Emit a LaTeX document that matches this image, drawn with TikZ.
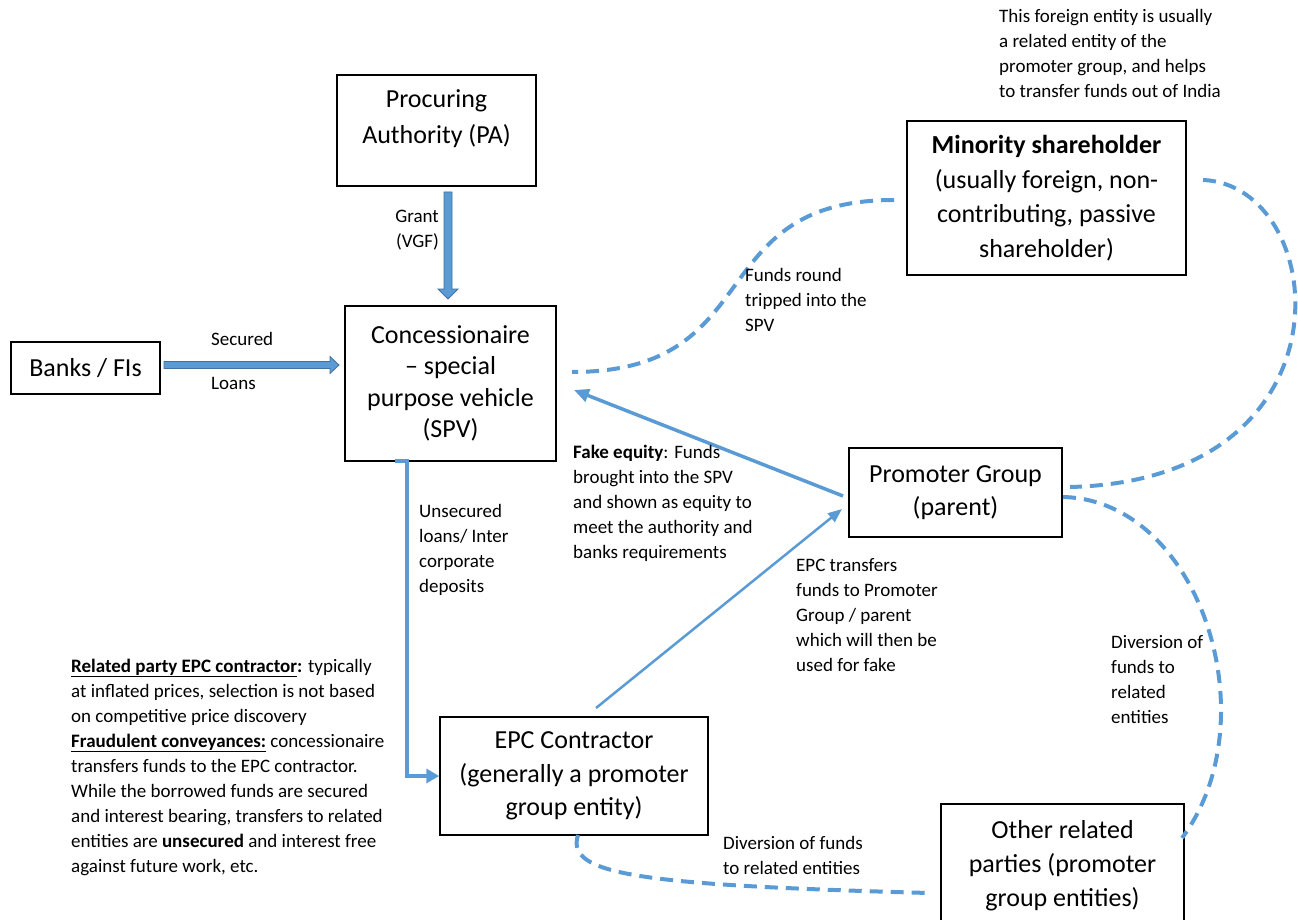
\documentclass[tikz,border=0pt]{standalone}
\usepackage{fontspec}
\setmainfont{Carlito}
\usetikzlibrary{arrows.meta}
\definecolor{flowblue}{HTML}{5B9BD5}
\definecolor{flowedge}{HTML}{41719C}

\begin{document}
\begin{tikzpicture}[x=1pt,y=-1pt,
  boxtext/.style={inner sep=0pt, align=center, font=\fontsize{26}{33}\selectfont},
  box/.style={boxtext, draw=black, line width=1.5pt},
  note/.style={anchor=north west, inner sep=0pt, align=left, font=\fontsize{19}{25}\selectfont},
  blockarrow/.style={fill=flowblue, draw=flowedge, line width=0.8pt},
  flow/.style={draw=flowblue, line width=3.5pt, -{Triangle[length=15pt,width=13pt]}},
  dashflow/.style={draw=flowblue, line width=4pt, dash pattern=on 13pt off 8pt}]
\useasboundingbox (0,0) rectangle (1298,920);
\clip (0,0) rectangle (1298,920);

\node[box, minimum width=199pt, minimum height=111pt] (pa) at (436.5,130.5) {};
\node[boxtext, font=\fontsize{26}{36}\selectfont] (patext) at (436.5,118.5) {Procuring\\Authority (PA)};
\node[box, font=\fontsize{26}{31.5}\selectfont, minimum width=211pt, minimum height=155pt] (spv) at (450.5,383.5) {Concessionaire\\-- special\\purpose vehicle\\(SPV)};
\node[box, minimum width=149pt, minimum height=52pt] (banks) at (85.5,368) {Banks / FIs};
\node[box, font=\fontsize{26}{34.5}\selectfont, minimum width=279pt, minimum height=154pt] (minority) at (1046.5,198) {\textbf{Minority shareholder}\\(usually foreign, non-\\contributing, passive\\shareholder)};
\node[box, minimum width=213pt, minimum height=89pt] (promoter) at (955.5,492.5) {Promoter Group\\(parent)};
\node[box, font=\fontsize{26}{33.5}\selectfont, minimum width=268pt, minimum height=118pt] (epc) at (574,776) {EPC Contractor\\(generally a promoter\\group entity)};
\node[box, font=\fontsize{26}{34}\selectfont, minimum width=243pt, minimum height=124pt] (other) at (1062.5,866) {Other related\\parties (promoter\\group entities)};

\coordinate (grantA) at (448,192);
\coordinate (loanA) at (164,365);
\draw[blockarrow] (grantA) ++(-4,0) -- ++(8,0) -- ++(0,97) -- ++(6,0) -- ++(-10,10) -- ++(-10,-10) -- ++(6,0) -- cycle;
\draw[blockarrow] (loanA) ++(0,-3.5) -- ++(166,0) -- ++(0,-5) -- ++(9,8.5) -- ++(-9,8.5) -- ++(0,-5) -- ++(-166,0) -- cycle;

\coordinate (spvout) at (395,461);
\draw[flow, line width=4.5pt, -{Triangle[length=13pt,width=14pt]}] (spvout) -- ++(12,0) |- (epc.west);

\coordinate (fakeout) at (843,496);
\coordinate (fakein) at (574,390);
\draw[flow] (fakeout) -- (fakein);
\coordinate (epcout) at (596,708);
\coordinate (parentin) at (842,509);
\draw[flow, line width=2.5pt, -{Triangle[length=14pt,width=11pt]}] (epcout) -- (parentin);

\coordinate (roundA) at (894,200);
\coordinate (roundB) at (572,372);
\draw[dashflow] (roundA) .. controls (700,200) and (770,372) .. (roundB);
\coordinate (minorA) at (1203,180);
\coordinate (minorB) at (1070,487);
\draw[dashflow] (minorA) .. controls (1330,185) and (1360,480) .. (minorB);
\coordinate (otherA) at (1063,497);
\coordinate (otherB) at (1182,838);
\draw[dashflow] (otherA) .. controls (1200,500) and (1270,720) .. (otherB);
\coordinate (epcA) at (578,835);
\coordinate (epcB) at (929,893);
\draw[dashflow] (epcA) .. controls (565,875) and (640,885) .. (epcB);

\node[note, anchor=north east, align=right] (grantlabel) at (439,210) {Grant\\(VGF)};
\node[note] (securedlabel) at (211,332.5) {Secured};
\node[note] (loanslabel) at (211,377.5) {Loans};
\node[note] (unsecuredlabel) at (419,504.5) {Unsecured\\loans/ Inter\\corporate\\deposits};
\node[note] (fakenote) at (573,444.5) {\textbf{Fake equity}: Funds\\brought into the SPV\\and shown as equity to\\meet the authority and\\banks requirements};
\node[note] (roundlabel) at (745,268.5) {Funds round\\tripped into the\\SPV};
\node[note] (epcnote) at (796,558.5) {EPC transfers\\funds to Promoter\\Group / parent\\which will then be\\used for fake};
\node[note] (diversionright) at (1111,635.5) {Diversion of\\funds to\\related\\entities};
\node[note] (diversionbottom) at (723,836.5) {Diversion of funds\\to related entities};
\node[note] (foreignnote) at (999,9.5) {This foreign entity is usually\\a related entity of the\\promoter group, and helps\\to transfer funds out of India};
\node[note] (relatednote) at (71,658.5) {\underline{\textbf{Related party EPC contractor}}\textbf{:} typically\\at inflated prices, selection is not based\\on competitive price discovery\\\underline{\textbf{Fraudulent conveyances:}} concessionaire\\transfers funds to the EPC contractor.\\While the borrowed funds are secured\\and interest bearing, transfers to related\\entities are \textbf{unsecured} and interest free\\against future work, etc.};
\end{tikzpicture}
\end{document}
